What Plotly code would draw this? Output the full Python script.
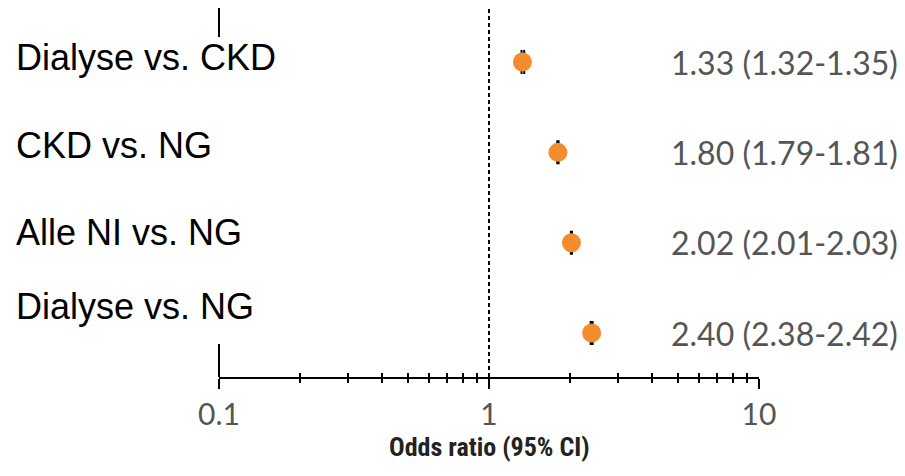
import plotly.graph_objects as go

# Forest plot: odds ratios with 95% confidence intervals
comparisons = ["Dialyse vs. CKD", "CKD vs. NG", "Alle NI vs. NG", "Dialyse vs. NG"]
odds_ratio = [1.33, 1.80, 2.02, 2.40]
ci_lower = [1.32, 1.79, 2.01, 2.38]
ci_upper = [1.35, 1.81, 2.03, 2.42]
row_pos = [4, 3, 2, 1]

major_ticks = [0.1, 1, 10]
major_tick_text = ["0.1", "1", "10"]
minor_ticks = [0.2, 0.3, 0.4, 0.5, 0.6, 0.7, 0.8, 0.9,
               2, 3, 4, 5, 6, 7, 8, 9]

# layout geometry (pixels)
W, H = 905, 476
L, R, T, B = 219, 146, 8, 99
PH = H - T - B
Y_RANGE = [0.513, 4.598]


def py(pix):
    """pixel row -> paper y"""
    return (H - B - pix) / PH


def px(pix):
    """pixel column -> paper x"""
    return (pix - L) / (W - L - R)


label_rows_px = [58, 145, 232, 306]

fig = go.Figure()

# reference line at OR = 1
fig.add_trace(go.Scatter(
    x=[1, 1], y=Y_RANGE, mode="lines",
    line=dict(color="black", width=2, dash="4px,3px"),
    hoverinfo="skip", showlegend=False,
))

# point estimates with CI caps
fig.add_trace(go.Scatter(
    x=odds_ratio, y=row_pos, mode="markers",
    marker=dict(color="#F28C2C", size=19, line=dict(width=0)),
    error_x=dict(
        type="data", symmetric=False,
        array=[u - o for u, o in zip(ci_upper, odds_ratio)],
        arrayminus=[o - l for o, l in zip(odds_ratio, ci_lower)],
        color="black", thickness=2, width=12,
    ),
    showlegend=False,
))

# helper trace so the crossing minor-tick axis is drawn
fig.add_trace(go.Scatter(x=[1], y=[None], xaxis="x2", yaxis="y",
                         mode="markers", showlegend=False, hoverinfo="skip"))

# estimate text on the right
for o, lo, hi, r in zip(odds_ratio, ci_lower, ci_upper, row_pos):
    fig.add_annotation(
        x=px(669), xref="paper", y=r, yref="y",
        text=f"{o:.2f} ({lo:.2f}-{hi:.2f})",
        showarrow=False, xanchor="left", yanchor="middle",
        font=dict(family="Lato, Open Sans, sans-serif", size=32, color="#555555"),
    )

# comparison labels on the left
for name, ypix in zip(comparisons, label_rows_px):
    fig.add_annotation(
        x=px(14), xref="paper", y=py(ypix), yref="paper",
        text=name, showarrow=False, xanchor="left", yanchor="middle",
        font=dict(family="Liberation Sans, Arial, sans-serif", size=36, color="black"),
    )

# axis title
fig.add_annotation(
    x=0.5, xref="paper", y=py(447), yref="paper",
    text="<b>Odds ratio (95% CI)</b>", showarrow=False,
    xanchor="center", yanchor="middle",
    font=dict(family="Liberation Sans Narrow, Roboto Condensed, sans-serif",
              size=26, color="#222222"),
)

# broken vertical axis line at OR = 0.1
for y0, y1 in [(8, 37), (344, 377)]:
    fig.add_shape(type="line", xref="paper", yref="paper",
                  x0=0, x1=0, y0=py(y0), y1=py(y1),
                  line=dict(color="black", width=2))

fig.update_layout(
    width=W, height=H,
    margin=dict(l=L, r=R, t=T, b=B),
    paper_bgcolor="white", plot_bgcolor="white",
    xaxis=dict(
        type="log", range=[-1, 1],
        tickmode="array", tickvals=major_ticks, ticktext=major_tick_text,
        ticks="outside", ticklen=10, tickwidth=2, tickcolor="black",
        minor=dict(tickmode="array", tickvals=minor_ticks, ticks="outside",
                   ticklen=4, tickwidth=2, tickcolor="black"),
        showline=True, linecolor="black", linewidth=2,
        showgrid=False, zeroline=False,
        tickfont=dict(family="Lato, Open Sans, sans-serif", size=30, color="#555555"),
    ),
    xaxis2=dict(
        type="log", range=[-1, 1], overlaying="x", anchor="y", side="bottom",
        tickmode="array", tickvals=minor_ticks + [10],
        ticks="inside", ticklen=4, tickwidth=2, tickcolor="black",
        showticklabels=False, showgrid=False, zeroline=False, showline=False,
    ),
    yaxis=dict(range=Y_RANGE, visible=False, showgrid=False, zeroline=False),
)

fig.write_html("out.html")
